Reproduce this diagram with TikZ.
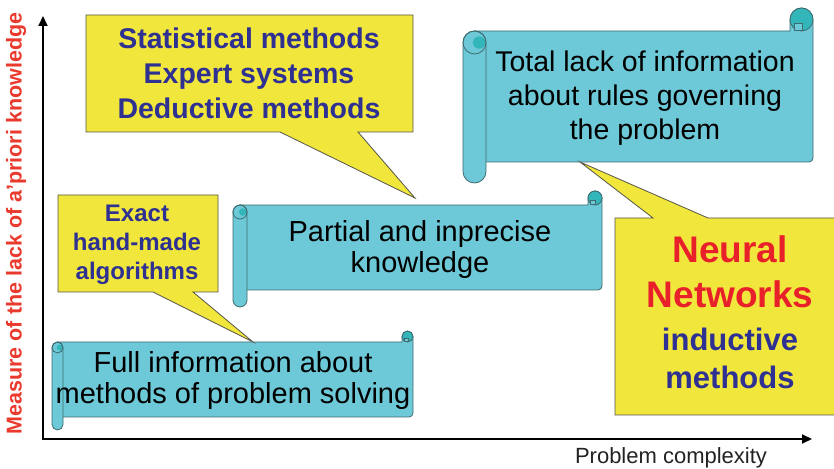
\documentclass[tikz,border=0pt]{standalone}
\usepackage{fontspec}
\setmainfont{Liberation Sans}
\usetikzlibrary{arrows.meta}
\definecolor{scrollcol}{HTML}{6DC9D7}
\definecolor{curlcol}{HTML}{33B6B9}
\definecolor{scrollline}{HTML}{3F6A70}
\definecolor{callcol}{HTML}{F1E63C}
\definecolor{callline}{HTML}{55554A}
\definecolor{textblue}{HTML}{2E3192}
\definecolor{nnred}{HTML}{E8202A}
\definecolor{axred}{HTML}{EA3A2E}
\definecolor{axtext}{HTML}{222222}
\newcommand\myscroll[6]{%
  % body with right roll
  \draw[scrollshape] ({#1+#5/2},#4) -- ({#1+#5/2},#3) -- ({#2-#5},#3)
     -- ({#2-#5},{#3+#5/2}) arc[start angle=180,end angle=0,radius={#5/2}]
     -- (#2,{#4+4}) arc[start angle=0,end angle=-90,radius=4] -- cycle;
  % right curl
  \draw[scrollshape,fill=curlcol] ({#2-#5/2},{#3+#5/2}) circle[radius={#5/2}];
  \draw[scrollshape] ({#2-0.82*#5},{#3+0.02*#5}) rectangle ({#2-0.45*#5},{#3+0.32*#5});
  % left roll
  \draw[scrollshape] (#1,{#6+#5/2}) -- (#1,{#3-#5/2})
     arc[start angle=180,end angle=0,radius={#5/2}]
     -- ({#1+#5},{#6+#5/2}) arc[start angle=0,end angle=-180,radius={#5/2}] -- cycle;
  \fill[curlcol] ({#1+0.7*#5},{#3-#5/2}) circle[radius={0.27*#5}];
  \draw[scrollline,line width=0.8pt] ({#1+#5/2},{#3-#5/2}) circle[radius={#5/2}];
}
\begin{document}
\begin{tikzpicture}[x=1pt,y=1pt,
  scrollshape/.style={draw=scrollline,fill=scrollcol,line width=0.8pt,line join=round},
  callout/.style={draw=callline,fill=callcol,line width=0.8pt,line join=miter},
  scrolltext/.style={align=center,inner sep=0pt,text=black,font=\fontsize{29}{31}\selectfont},
  calltext/.style={align=center,inner sep=0pt,text=textblue,font=\bfseries\fontsize{28.5}{35}\selectfont},
  axisline/.style={line width=2pt,{Triangle[length=10pt,width=9pt]}-{Triangle[length=10pt,width=9pt]}}]
\useasboundingbox (0,0) rectangle (834,468);

% axes
\coordinate (ytip) at (43,452);
\coordinate (origin) at (43,29);
\coordinate (xtip) at (812,29);
\draw[axisline] (ytip) -- (origin) -- (xtip);
\node[rotate=90,inner sep=0pt,text=axred,font=\bfseries\fontsize{21.5}{24}\selectfont] (ylab) at (16,244.5) {Measure of the lack of a'priori knowledge};
\node[inner sep=0pt,text=axtext,font=\fontsize{22}{24}\selectfont] (xlab) at (671,10.5) {Problem complexity};

% scrolls
\myscroll{52}{413}{126}{51}{11}{38}
\myscroll{233}{602}{263}{178}{14}{161}
\myscroll{463}{813}{437}{306}{23}{285}

\node[scrolltext] (full) at (233,87.5) {Full information about\\methods of problem solving};
\node[scrolltext] (partial) at (420,218) {Partial and inprecise\\knowledge};
\node[scrolltext,font=\fontsize{28.5}{34}\selectfont] (total) at (645,369.5) {Total lack of information\\about rules governing\\the problem};

% callouts
\draw[callout] (86,453) -- (413,453) -- (413,336) -- (358,336) -- (415,270) -- (280,336) -- (86,336) -- cycle;
\node[calltext] (stat) at (249,395) {Statistical methods\\Expert systems\\Deductive methods};

\draw[callout] (58,273) -- (218,273) -- (218,176) -- (193,176) -- (253,126) -- (153,176) -- (58,176) -- cycle;
\node[calltext,font=\bfseries\fontsize{24}{29}\selectfont] (exact) at (137,223) {Exact\\hand-made\\algorithms};

\fill[callcol] (615,250) -- (653,250) -- (580,306) -- (708,250) -- (834,250) -- (834,53) -- (615,53) -- cycle;
\draw[callline,line width=0.8pt] (834,250) -- (708,250) -- (580,306) -- (653,250) -- (615,250) -- (615,53) -- (834,53);
\node[inner sep=0pt,align=center,text=nnred,font=\bfseries\fontsize{37}{45}\selectfont] (nn) at (730,196.5) {Neural\\Networks};
\node[inner sep=0pt,align=center,text=textblue,font=\bfseries\fontsize{31}{38}\selectfont] (ind) at (730,110) {inductive\\methods};
\end{tikzpicture}
\end{document}
